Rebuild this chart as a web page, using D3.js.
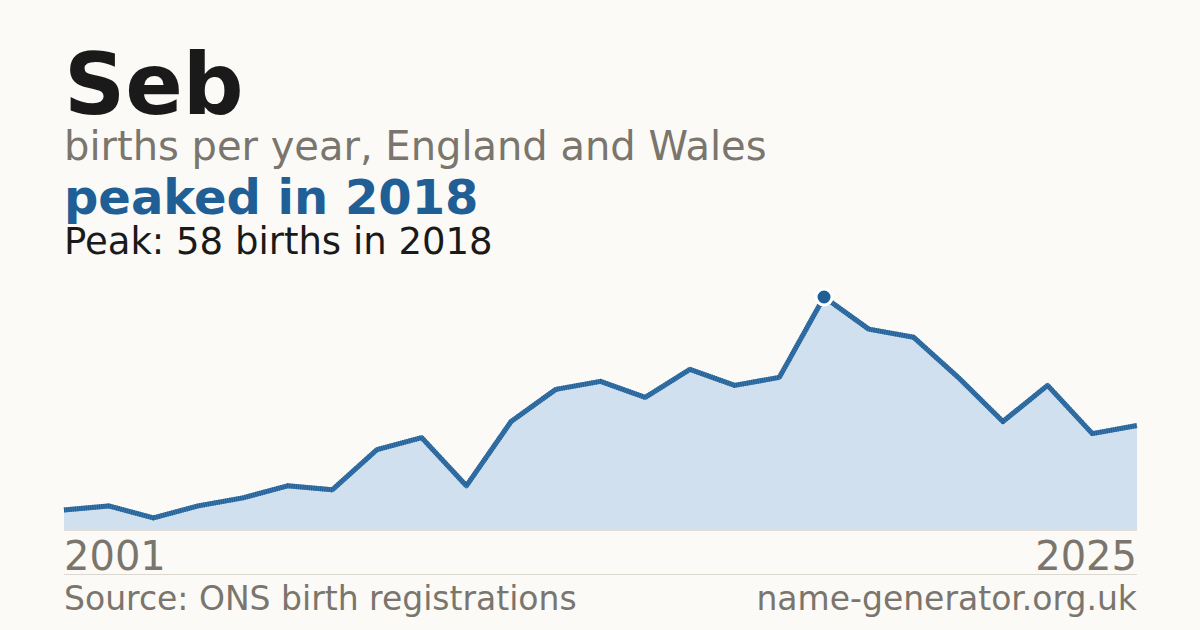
<!DOCTYPE html>
<html>
  <head>
    <meta charset="utf-8" />
    <script src="https://cdn.jsdelivr.net/npm/d3@7"></script>
    <style>
        body { margin: 0; background: #fbfaf6; }
        svg { display: block; font-family: "DejaVu Sans", sans-serif; }
    </style>
  </head>
  <body>
    <svg width="1200" height="630"></svg>

    <script type="text/javascript">
        // births per year
        var years = [2001,2002,2003,2004,2005,2006,2007,2008,2009,2010,2011,2012,2013,
                     2014,2015,2016,2017,2018,2019,2020,2021,2022,2023,2024,2025];
        var births = [5,6,3,6,8,11,10,20,23,11,27,35,37,33,40,36,38,58,50,48,38,27,36,24,26];
        var axisLabels = [2001, 2025];
        var peakYear = 2018;

        var data = years.map(function(y, i) { return {year: y, n: births[i]}; });
        var peak = data.filter(function(d) { return d.year == peakYear; })[0];

        // note: "top" is taken by window.top
        var plotLeft = 64, plotRight = 1137, plotBottom = 530, plotTop = 297;

        var svg = d3.select("svg");

        svg.append("rect")
            .attr("width", 1200)
            .attr("height", 630)
            .attr("fill", "#fbfaf6");

        var x = d3.scaleLinear()
            .domain(d3.extent(years))
            .range([plotLeft, plotRight]);

        var y = d3.scaleLinear()
            .domain([0, d3.max(births)])
            .range([plotBottom, plotTop]);

        // titles
        svg.append("text")
            .attr("x", plotLeft).attr("y", 114)
            .attr("font-size", 85).attr("font-weight", "bold")
            .attr("fill", "#1a1a1a")
            .text("Seb");

        svg.append("text")
            .attr("x", plotLeft).attr("y", 160)
            .attr("font-size", 40)
            .attr("fill", "#7a756d")
            .text("births per year, England and Wales");

        svg.append("text")
            .attr("x", plotLeft).attr("y", 214)
            .attr("font-size", 48).attr("font-weight", "bold")
            .attr("fill", "#1f5f96")
            .text("peaked in " + peakYear);

        svg.append("text")
            .attr("x", plotLeft).attr("y", 254)
            .attr("font-size", 37)
            .attr("fill", "#1a1a1a")
            .text("Peak: " + peak.n + " births in " + peak.year);

        // area + line
        var area = d3.area()
            .x(function(d) { return x(d.year); })
            .y0(plotBottom)
            .y1(function(d) { return y(d.n); });

        var line = d3.line()
            .x(function(d) { return x(d.year); })
            .y(function(d) { return y(d.n); });

        svg.append("path")
            .datum(data)
            .attr("d", area)
            .attr("fill", "#d0e0ef");

        svg.append("line")
            .attr("x1", plotLeft).attr("x2", plotRight)
            .attr("y1", plotBottom + 0.5).attr("y2", plotBottom + 0.5)
            .attr("stroke", "#e4ddd5")
            .attr("stroke-width", 1);

        svg.append("path")
            .datum(data)
            .attr("d", line)
            .attr("fill", "none")
            .attr("stroke", "#3d76aa")
            .attr("stroke-width", 5)
            .attr("stroke-linejoin", "round");

        svg.append("path")
            .datum(data)
            .attr("d", line)
            .attr("fill", "none")
            .attr("stroke", "#1f5f96")
            .attr("stroke-width", 5)
            .attr("stroke-dasharray", "1,1.2")
            .attr("stroke-linejoin", "round");

        // peak dot
        svg.append("circle")
            .attr("cx", x(peak.year))
            .attr("cy", y(peak.n))
            .attr("r", 8)
            .attr("fill", "#1f5f96")
            .attr("stroke", "#ffffff")
            .attr("stroke-width", 3);

        // x labels
        svg.selectAll("text.xlab")
            .data(axisLabels)
            .enter()
            .append("text")
            .attr("class", "xlab")
            .attr("x", function(d) { return x(d); })
            .attr("y", 570)
            .attr("text-anchor", function(d, i) { return i == 0 ? "start" : "end"; })
            .attr("font-size", 40)
            .attr("fill", "#7a756d")
            .text(function(d) { return d; });

        // footer
        svg.append("line")
            .attr("x1", plotLeft).attr("x2", plotRight)
            .attr("y1", 574.5).attr("y2", 574.5)
            .attr("stroke", "#dcd8d0")
            .attr("stroke-width", 1);

        svg.append("text")
            .attr("x", plotLeft).attr("y", 610)
            .attr("font-size", 33)
            .attr("fill", "#7a756d")
            .text("Source: ONS birth registrations");

        svg.append("text")
            .attr("x", plotRight).attr("y", 610)
            .attr("text-anchor", "end")
            .attr("font-size", 33)
            .attr("fill", "#7a756d")
            .text("name-generator.org.uk");
    </script>
  </body>
</html>
